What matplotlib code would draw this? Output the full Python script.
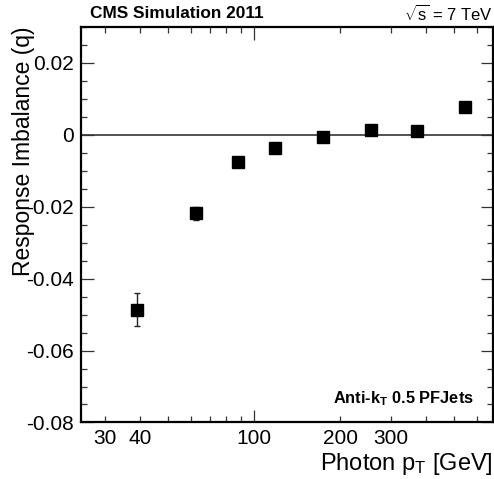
# Response imbalance vs photon pT (CMS style)
import matplotlib
matplotlib.use('Agg')
import matplotlib.pyplot as plt
from matplotlib.ticker import FixedLocator, MultipleLocator

plt.rcParams['font.family'] = ['Liberation Sans', 'DejaVu Sans']
plt.rcParams['mathtext.fontset'] = 'custom'
plt.rcParams['mathtext.rm'] = 'Liberation Sans'
plt.rcParams['mathtext.it'] = 'Liberation Sans:italic'
plt.rcParams['mathtext.bf'] = 'Liberation Sans:bold'

# data
pt = [38.9, 62.7, 88.1, 117.8, 174.7, 255.9, 371.5, 543.9]
imbalance = [-0.0486, -0.0218, -0.0077, -0.0038, -0.0006, 0.0014, 0.0011, 0.0077]
imbalance_err = [0.0047, 0.0018, 0.0008, 0.0006, 0.0005, 0.0005, 0.0005, 0.0006]

x_labelled = [30, 40, 200, 300]

fig = plt.figure(figsize=(4.94, 4.79), dpi=100)
ax = fig.add_axes([0.164, 0.118, 0.834, 0.826])

ax.axhline(0, color='#333333', lw=1.2, zorder=1)
ax.errorbar(pt, imbalance, yerr=imbalance_err, fmt='s', color='black',
            ms=8, ecolor='#222222', elinewidth=1, capsize=2, capthick=1, zorder=3)

ax.set_xscale('log')
ax.set_xlim(24.8, 684)
ax.set_ylim(-0.08, 0.03)

# x ticks: only 100 major, selected minor ticks labelled
ax.xaxis.set_major_locator(FixedLocator([100]))
minors = [m * d for d in (10, 100) for m in range(2, 10) if 24.8 <= m * d <= 684]
ax.set_xticks(minors, [str(int(v)) if v in x_labelled else '' for v in minors], minor=True)
ax.set_xticks([100], ['100'])

ax.yaxis.set_minor_locator(MultipleLocator(0.005))
ax.set_yticks([-0.08, -0.06, -0.04, -0.02, 0, 0.02],
              ['-0.08', '-0.06', '-0.04', '-0.02', '0', '0.02'])

ax.tick_params(which='both', direction='in', top=True, right=True,
               labelsize=15, width=0.9, color='#333333', pad=5)
ax.tick_params(which='major', length=9)
ax.tick_params(which='minor', length=4.5)
ax.tick_params(axis='x', which='minor', labelsize=15, pad=5)

for s in ax.spines.values():
    s.set_linewidth(1.6)

ax.set_ylabel('Response Imbalance (q)', fontsize=16.5, loc='top', labelpad=-6)
ax.set_xlabel(r'Photon $\mathregular{p_{T}}$ [GeV]', fontsize=17, loc='right', labelpad=2)

fig.text(0.182, 0.971, 'CMS Simulation 2011', fontsize=12.4, fontweight='bold', va='center')
fig.text(0.997, 0.971, r'$\mathregular{\sqrt{s}}$ = 7 TeV', fontsize=12, ha='right', va='center')
ax.text(0.953, 0.061, r'Anti-$\mathbf{k_{T}}$ 0.5 PFJets', transform=ax.transAxes,
        fontsize=11.8, fontweight='bold', ha='right', va='center')

fig.savefig('out.png', dpi=100)
